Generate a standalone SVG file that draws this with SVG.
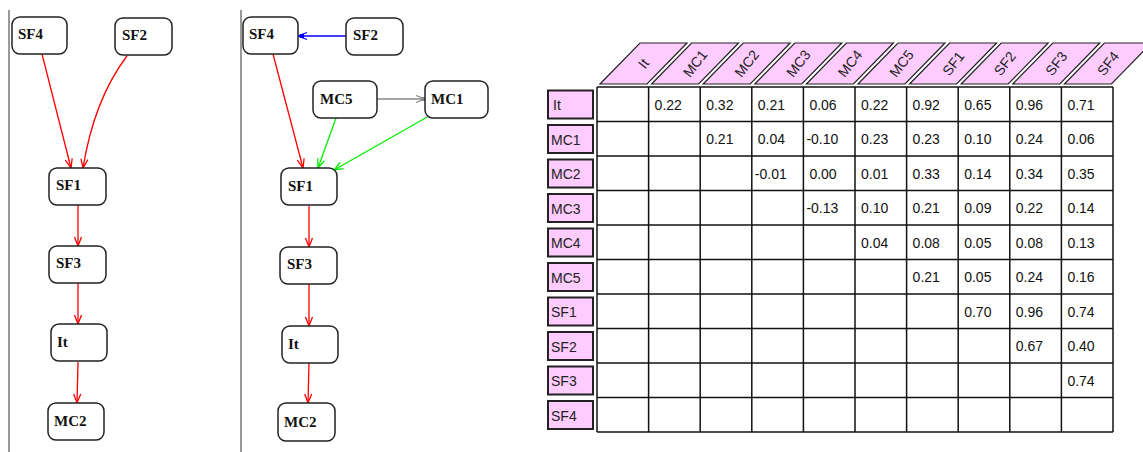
<svg xmlns="http://www.w3.org/2000/svg" width="1143" height="452" viewBox="0 0 1143 452">
<style>
.node rect{fill:#fff;stroke:#222;stroke-width:1.5}
.node text{font-family:"Liberation Serif",serif;font-weight:bold;font-size:15px;fill:#111}
.e{fill:none;stroke-width:1.3}
.red{stroke:#ff0000}.green{stroke:#00ee00}.blue{stroke:#0000ff}.gray{stroke:#888}
.sep{stroke:#777;stroke-width:1.5}
.hdr polygon{fill:#ffccff;stroke:#222;stroke-width:1.2}
.hdr text{font-family:"Liberation Sans",Arial,sans-serif;font-size:14px;fill:#222;text-anchor:middle;dominant-baseline:central}
.lbl rect{fill:#ffccff;stroke:#222;stroke-width:2}
.lbl text{font-family:"Liberation Sans",Arial,sans-serif;font-size:14px;fill:#222}
.grid line{stroke:#111;stroke-width:1.5}
.val text{font-family:"Liberation Sans",Arial,sans-serif;font-size:14px;fill:#111}
</style>
<defs>
<marker id="aR" markerUnits="userSpaceOnUse" markerWidth="12" markerHeight="10" viewBox="-10 -5 12 10" refX="0" refY="0" orient="auto"><path d="M-9,-3.5 L0,0 L-9,3.5" fill="none" stroke="#ff0000" stroke-width="1.3"/></marker>
<marker id="aG" markerUnits="userSpaceOnUse" markerWidth="12" markerHeight="10" viewBox="-10 -5 12 10" refX="0" refY="0" orient="auto"><path d="M-9,-3.5 L0,0 L-9,3.5" fill="none" stroke="#00ee00" stroke-width="1.3"/></marker>
<marker id="aB" markerUnits="userSpaceOnUse" markerWidth="12" markerHeight="10" viewBox="-10 -5 12 10" refX="0" refY="0" orient="auto"><path d="M-9,-3.5 L0,0 L-9,3.5" fill="none" stroke="#0000ff" stroke-width="1.3"/><rect x="-6" y="-2" width="4" height="4" fill="#0000ff"/></marker>
<marker id="aY" markerUnits="userSpaceOnUse" markerWidth="12" markerHeight="10" viewBox="-10 -5 12 10" refX="0" refY="0" orient="auto"><path d="M-9,-3.5 L0,0 L-9,3.5" fill="none" stroke="#888" stroke-width="1.3"/><rect x="-4" y="-2" width="4" height="4" fill="#888"/></marker>
</defs>
<rect width="1143" height="452" fill="#fff"/>
<line class="sep" x1="9" y1="10" x2="9" y2="452"/>
<line class="sep" x1="241" y1="10" x2="241" y2="452"/>

<g id="connectors">
<path class="e red" d="M42,54 L71,168" marker-end="url(#aR)"/>
<path class="e red" d="M127,56 C105,85 90,125 83,168" marker-end="url(#aR)"/>
<path class="e red" d="M78,205 L78,246" marker-end="url(#aR)"/>
<path class="e red" d="M78,283 L78,324" marker-end="url(#aR)"/>
<path class="e red" d="M78,362 L77,403" marker-end="url(#aR)"/>
<path class="e blue" d="M346,36 L298,36" marker-end="url(#aB)"/>
<path class="e gray" d="M377,99 L425,99" marker-end="url(#aY)"/>
<path class="e red" d="M273,54 L303,168" marker-end="url(#aR)"/>
<path class="e green" d="M336,118 L318,168" marker-end="url(#aG)"/>
<path class="e green" d="M429,116 L334,170" marker-end="url(#aG)"/>
<path class="e red" d="M309,206 L309,247" marker-end="url(#aR)"/>
<path class="e red" d="M309,284 L309,326" marker-end="url(#aR)"/>
<path class="e red" d="M309,363 L308,403" marker-end="url(#aR)"/>
</g>

<g id="a_SF4" class="node"><rect x="12" y="17" width="55" height="37" rx="8"/><text x="18" y="39">SF4</text></g>
<g id="a_SF2" class="node"><rect x="115" y="18" width="57" height="37" rx="8"/><text x="122" y="40">SF2</text></g>
<g id="a_SF1" class="node"><rect x="49" y="168" width="57" height="37" rx="8"/><text x="56" y="190">SF1</text></g>
<g id="a_SF3" class="node"><rect x="49" y="246" width="57" height="37" rx="8"/><text x="56" y="268">SF3</text></g>
<g id="a_It" class="node"><rect x="51" y="324" width="56" height="37" rx="8"/><text x="57" y="347">It</text></g>
<g id="a_MC2" class="node"><rect x="48" y="403" width="56" height="37" rx="8"/><text x="54" y="426">MC2</text></g>

<g id="b_SF4" class="node"><rect x="243" y="17" width="55" height="37" rx="8"/><text x="249" y="39">SF4</text></g>
<g id="b_SF2" class="node"><rect x="346" y="18" width="57" height="37" rx="8"/><text x="353" y="40">SF2</text></g>
<g id="b_MC5" class="node"><rect x="313" y="81" width="64" height="37" rx="8"/><text x="320" y="104">MC5</text></g>
<g id="b_MC1" class="node"><rect x="425" y="81" width="63" height="37" rx="8"/><text x="431" y="104">MC1</text></g>
<g id="b_SF1" class="node"><rect x="281" y="168" width="56" height="37" rx="8"/><text x="288" y="191">SF1</text></g>
<g id="b_SF3" class="node"><rect x="280" y="247" width="57" height="37" rx="8"/><text x="287" y="269">SF3</text></g>
<g id="b_It" class="node"><rect x="282" y="326" width="56" height="37" rx="8"/><text x="288" y="349">It</text></g>
<g id="b_MC2" class="node"><rect x="278" y="403" width="57" height="38" rx="8"/><text x="284" y="427">MC2</text></g>

<g id="headers" class="hdr">
<polygon points="600,84 647,84 687,43 640,43"/><text transform="translate(643.5,63.5) rotate(-52)">It</text>
<polygon points="651.6,84 698.6,84 738.6,43 691.6,43"/><text transform="translate(695.1,63.5) rotate(-52)">MC1</text>
<polygon points="703.2,84 750.2,84 790.2,43 743.2,43"/><text transform="translate(746.7,63.5) rotate(-52)">MC2</text>
<polygon points="754.8,84 801.8,84 841.8,43 794.8,43"/><text transform="translate(798.3,63.5) rotate(-52)">MC3</text>
<polygon points="806.4,84 853.4,84 893.4,43 846.4,43"/><text transform="translate(849.9,63.5) rotate(-52)">MC4</text>
<polygon points="858,84 905,84 945,43 898,43"/><text transform="translate(901.5,63.5) rotate(-52)">MC5</text>
<polygon points="909.6,84 956.6,84 996.6,43 949.6,43"/><text transform="translate(953.1,63.5) rotate(-52)">SF1</text>
<polygon points="961.2,84 1008.2,84 1048.2,43 1001.2,43"/><text transform="translate(1004.7,63.5) rotate(-52)">SF2</text>
<polygon points="1012.8,84 1059.8,84 1099.8,43 1052.8,43"/><text transform="translate(1056.3,63.5) rotate(-52)">SF3</text>
<polygon points="1064.4,84 1111.4,84 1151.4,43 1104.4,43"/><text transform="translate(1107.9,63.5) rotate(-52)">SF4</text>
</g>

<g id="rowlabels" class="lbl">
<rect x="548" y="90.5" width="45" height="28"/><text x="553" y="110">It</text>
<rect x="548" y="125" width="45" height="28"/><text x="551" y="144.5">MC1</text>
<rect x="548" y="159.5" width="45" height="28"/><text x="551" y="179">MC2</text>
<rect x="548" y="194" width="45" height="28"/><text x="551" y="213.5">MC3</text>
<rect x="548" y="228.5" width="45" height="28"/><text x="551" y="248">MC4</text>
<rect x="548" y="263" width="45" height="28"/><text x="551" y="282.5">MC5</text>
<rect x="548" y="297.5" width="45" height="28"/><text x="551" y="317">SF1</text>
<rect x="548" y="332" width="45" height="28"/><text x="551" y="351.5">SF2</text>
<rect x="548" y="366.5" width="45" height="28"/><text x="551" y="386">SF3</text>
<rect x="548" y="401" width="45" height="28"/><text x="551" y="420.5">SF4</text>
</g>

<g id="grid" class="grid">
<line x1="597" y1="87" x2="597" y2="432"/><line x1="648.6" y1="87" x2="648.6" y2="432"/><line x1="700.2" y1="87" x2="700.2" y2="432"/><line x1="751.8" y1="87" x2="751.8" y2="432"/><line x1="803.4" y1="87" x2="803.4" y2="432"/><line x1="855" y1="87" x2="855" y2="432"/><line x1="906.6" y1="87" x2="906.6" y2="432"/><line x1="958.2" y1="87" x2="958.2" y2="432"/><line x1="1009.8" y1="87" x2="1009.8" y2="432"/><line x1="1061.4" y1="87" x2="1061.4" y2="432"/><line x1="1113" y1="87" x2="1113" y2="432"/>
<line x1="597" y1="87" x2="1113" y2="87"/><line x1="597" y1="121.5" x2="1113" y2="121.5"/><line x1="597" y1="156" x2="1113" y2="156"/><line x1="597" y1="190.5" x2="1113" y2="190.5"/><line x1="597" y1="225" x2="1113" y2="225"/><line x1="597" y1="259.5" x2="1113" y2="259.5"/><line x1="597" y1="294" x2="1113" y2="294"/><line x1="597" y1="328.5" x2="1113" y2="328.5"/><line x1="597" y1="363" x2="1113" y2="363"/><line x1="597" y1="397.5" x2="1113" y2="397.5"/><line x1="597" y1="432" x2="1113" y2="432"/>
</g>

<g id="values" class="val">
<text x="654.6" y="109.5">0.22</text><text x="706.2" y="109.5">0.32</text><text x="757.8" y="109.5">0.21</text><text x="809.4" y="109.5">0.06</text><text x="861" y="109.5">0.22</text><text x="912.6" y="109.5">0.92</text><text x="964.2" y="109.5">0.65</text><text x="1015.8" y="109.5">0.96</text><text x="1067.4" y="109.5">0.71</text>
<text x="706.2" y="144">0.21</text><text x="757.8" y="144">0.04</text><text x="806.4" y="144">-0.10</text><text x="861" y="144">0.23</text><text x="912.6" y="144">0.23</text><text x="964.2" y="144">0.10</text><text x="1015.8" y="144">0.24</text><text x="1067.4" y="144">0.06</text>
<text x="754.8" y="178.5">-0.01</text><text x="809.4" y="178.5">0.00</text><text x="861" y="178.5">0.01</text><text x="912.6" y="178.5">0.33</text><text x="964.2" y="178.5">0.14</text><text x="1015.8" y="178.5">0.34</text><text x="1067.4" y="178.5">0.35</text>
<text x="806.4" y="213">-0.13</text><text x="861" y="213">0.10</text><text x="912.6" y="213">0.21</text><text x="964.2" y="213">0.09</text><text x="1015.8" y="213">0.22</text><text x="1067.4" y="213">0.14</text>
<text x="861" y="247.5">0.04</text><text x="912.6" y="247.5">0.08</text><text x="964.2" y="247.5">0.05</text><text x="1015.8" y="247.5">0.08</text><text x="1067.4" y="247.5">0.13</text>
<text x="912.6" y="282">0.21</text><text x="964.2" y="282">0.05</text><text x="1015.8" y="282">0.24</text><text x="1067.4" y="282">0.16</text>
<text x="964.2" y="316.5">0.70</text><text x="1015.8" y="316.5">0.96</text><text x="1067.4" y="316.5">0.74</text>
<text x="1015.8" y="351">0.67</text><text x="1067.4" y="351">0.40</text>
<text x="1067.4" y="385.5">0.74</text>
</g>
</svg>
